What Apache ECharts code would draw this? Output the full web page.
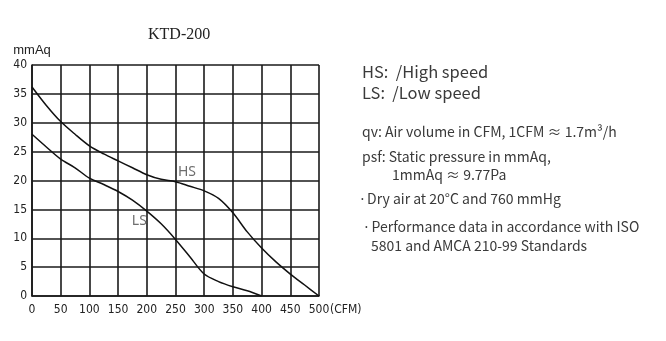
<!DOCTYPE html>
<html>
<head>
<meta charset="utf-8">
<script src="https://cdn.jsdelivr.net/npm/echarts@6/dist/echarts.min.js"></script>
<style>
  html, body { margin: 0; padding: 0; background: #fff; }
  #chart { width: 666px; height: 341px; }
</style>
</head>
<body>
<div id="chart"></div>
<script>
// Air volume (CFM) sample points along both fan curves
const cfm = [0, 25, 50, 75, 100, 125, 150, 175, 200, 225, 250, 275, 300, 325, 350, 375, 400, 425, 450, 475, 500];
// Static pressure (mmAq) at high speed
const hsPressure = [36.2, 33.0, 30.2, 28.0, 26.0, 24.6, 23.4, 22.2, 21.0, 20.2, 19.8, 19.0, 18.2, 16.9, 14.4, 11.1, 8.3, 5.9, 3.8, 1.9, 0];
// Static pressure (mmAq) at low speed, ends at 400 CFM
const lsPressure = [28.0, 25.8, 23.7, 22.2, 20.4, 19.3, 18.1, 16.6, 14.7, 12.5, 9.8, 6.8, 3.8, 2.5, 1.6, 0.9, 0];
const xTicks = [0, 50, 100, 150, 200, 250, 300, 350, 400, 450, 500];
const yTicks = [0, 5, 10, 15, 20, 25, 30, 35, 40];
const curveNames = ['HS', 'LS'];
const curveLabelAt = [[270, 21.5], [187, 12.9]];

// Legend notes on the right (x, y = left edge and vertical centre of each line)
const notes = [
  { text: 'HS:  /High speed', x: 362, y: 72, size: 16.5 },
  { text: 'LS:  /Low speed', x: 362, y: 93, size: 16.5 },
  { text: 'qv: Air volume in CFM, 1CFM \u2248 1.7m\u00B3/h', x: 362, y: 132, size: 14 },
  { text: 'psf: Static pressure in mmAq,', x: 362, y: 157, size: 14 },
  { text: '1mmAq \u2248 9.77Pa', x: 392, y: 175, size: 14 },
  { text: 'Dry air at 20\u00B0C and 760 mmHg', x: 367, y: 199, size: 14 },
  { text: 'Performance data in accordance with ISO', x: 371.5, y: 227, size: 14 },
  { text: '5801 and AMCA 210-99 Standards', x: 371, y: 246, size: 14 }
];
// Small middle dots in front of the bullet lines
const bullets = [
  { x: 362.5, y: 200.5 },
  { x: 366.5, y: 228.5 }
];

const gridColor = '#1a1a1a';
const tickFont = '"DejaVu Sans Condensed", "Liberation Sans Narrow", "Liberation Sans", sans-serif';
const noteFont = '"Noto Sans CJK SC", "Noto Sans", sans-serif';
const noteColor = '#3a3a3a';

const chart = echarts.init(document.getElementById('chart'));

function curveSeries(name, values, at) {
  return {
    name: name,
    type: 'line',
    data: values.map((v, i) => [cfm[i], v]),
    smooth: 0.3,
    symbol: 'none',
    lineStyle: { color: '#111', width: 1.5 },
    silent: true,
    markPoint: {
      symbol: 'circle',
      symbolSize: 1,
      itemStyle: { color: 'rgba(0,0,0,0)' },
      label: {
        show: true,
        position: 'inside',
        formatter: name,
        color: '#6e6e6e',
        fontSize: 14,
        fontFamily: '"Noto Sans", sans-serif'
      },
      data: [{ coord: at }]
    }
  };
}

const noteGraphics = notes.map(n => ({
  type: 'text',
  x: n.x,
  y: n.y,
  silent: true,
  style: {
    text: n.text,
    fontFamily: noteFont,
    fontSize: n.size,
    fill: noteColor,
    verticalAlign: 'middle'
  }
}));
const bulletGraphics = bullets.map(b => ({
  type: 'text',
  x: b.x,
  y: b.y,
  silent: true,
  style: {
    text: '\u00B7',
    fontFamily: '"Noto Sans", sans-serif',
    fontSize: 14,
    fill: noteColor,
    align: 'center',
    verticalAlign: 'middle'
  }
}));

chart.setOption({
  backgroundColor: '#fff',
  animation: false,
  title: {
    text: 'KTD-200',
    left: 143,
    top: 22,
    textStyle: { fontFamily: '"Liberation Serif", "Times New Roman", serif', fontSize: 16, fontWeight: 'normal', color: '#222' }
  },
  grid: { left: 32, top: 65, width: 287, height: 231, outerBoundsMode: 'none' },
  xAxis: {
    type: 'value',
    min: xTicks[0],
    max: xTicks[xTicks.length - 1],
    interval: 50,
    name: '(CFM)',
    nameLocation: 'end',
    nameGap: 11,
    nameMoveOverlap: false,
    nameTextStyle: { fontFamily: tickFont, fontSize: 12, color: '#222', verticalAlign: 'top', padding: [8, 0, 0, 0] },
    axisLine: { show: true, lineStyle: { color: gridColor, width: 1.6 } },
    axisTick: { show: false },
    axisLabel: { margin: 8, fontFamily: tickFont, fontSize: 12, color: '#222' },
    splitLine: { show: true, lineStyle: { color: gridColor, width: 1.6 } }
  },
  yAxis: {
    type: 'value',
    min: yTicks[0],
    max: yTicks[yTicks.length - 1],
    interval: 5,
    name: 'mmAq',
    nameLocation: 'end',
    nameGap: 8,
    nameTextStyle: { fontFamily: '"Liberation Sans", Arial, sans-serif', fontSize: 13, color: '#222', align: 'center' },
    axisLine: { show: true, lineStyle: { color: gridColor, width: 1.6 } },
    axisTick: { show: false },
    axisLabel: { margin: 5, fontFamily: tickFont, fontSize: 12, color: '#222' },
    splitLine: { show: true, lineStyle: { color: gridColor, width: 1.6 } }
  },
  series: [
    curveSeries(curveNames[0], hsPressure, curveLabelAt[0]),
    curveSeries(curveNames[1], lsPressure, curveLabelAt[1])
  ],
  graphic: noteGraphics.concat(bulletGraphics)
});
</script>
</body>
</html>
